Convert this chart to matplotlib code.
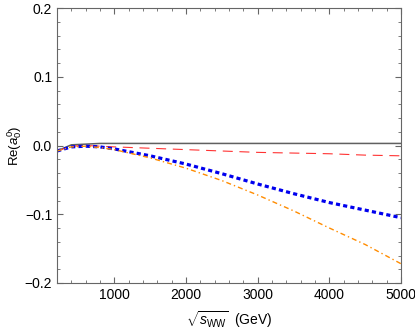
import numpy as np
import matplotlib
matplotlib.use("Agg")
import matplotlib.pyplot as plt
from matplotlib.ticker import MultipleLocator

plt.rcParams['font.family'] = ['Liberation Sans', 'DejaVu Sans']
plt.rcParams['mathtext.fontset'] = 'custom'
plt.rcParams['mathtext.rm'] = 'Liberation Sans'
plt.rcParams['mathtext.it'] = 'Liberation Sans:italic'

# sqrt(s_WW) in GeV
energy = [200, 400, 600, 800, 1000, 1500, 2000, 2500, 3000, 3500, 4000, 4500, 5000]

# Re(a_0^0) for the four curves
black_solid = [-0.008, 0.001, 0.002, 0.003, 0.003, 0.003, 0.003, 0.003, 0.003, 0.003, 0.003, 0.003, 0.003]
red_dashed = [-0.008, -0.001, 0.0, -0.001, -0.002, -0.004, -0.006, -0.008, -0.010, -0.011, -0.012, -0.014, -0.015]
blue_dotted = [-0.008, -0.002, -0.001, -0.002, -0.005, -0.015, -0.027, -0.041, -0.056, -0.070, -0.083, -0.094, -0.105]
orange_dashdot = [-0.008, -0.002, -0.001, -0.003, -0.006, -0.018, -0.033, -0.051, -0.072, -0.095, -0.120, -0.144, -0.172]

fig = plt.figure(figsize=(4.15, 3.34), dpi=100)
ax = fig.add_axes([57 / 415, 1 - 283 / 334, 344 / 415, 275 / 334])

ax.plot(energy, black_solid, color='#606060', lw=1.1)
ax.plot(energy, red_dashed, color='#ff3333', lw=0.8, dashes=(9, 6))
ax.plot(energy, blue_dotted, color='#0000ee', lw=2.3, dashes=(1.3, 1.0))
ax.plot(energy, orange_dashdot, color='#ff8c00', lw=1.0, dashes=(3.6, 2.2, 1, 2.2))

ax.set_xlim(200, 5000)
ax.set_ylim(-0.2, 0.2)
ax.xaxis.set_major_locator(MultipleLocator(1000))
ax.xaxis.set_minor_locator(MultipleLocator(200))
ax.yaxis.set_major_locator(MultipleLocator(0.1))
ax.yaxis.set_minor_locator(MultipleLocator(0.02))
ax.yaxis.set_major_formatter(plt.FuncFormatter(lambda v, p: f"{v:.1f}".replace('-', '\u2212')))

for s in ax.spines.values():
    s.set_color('#666666')
    s.set_linewidth(0.8)
ax.tick_params(which='both', direction='in', top=True, right=True, colors='#666666',
               labelcolor='black', labelsize=10)
ax.tick_params(which='major', length=4)
ax.tick_params(which='minor', length=2)

ax.set_xlabel(r'$\sqrt{s_{\rm WW}}$  (GeV)', fontsize=10)
ax.set_ylabel(r'Re($a^0_0$)', fontsize=9.5)
ax.xaxis.set_label_coords(0.5, -0.095)
ax.yaxis.set_label_coords(-0.097, 0.5)

fig.savefig('out.png', dpi=100)
